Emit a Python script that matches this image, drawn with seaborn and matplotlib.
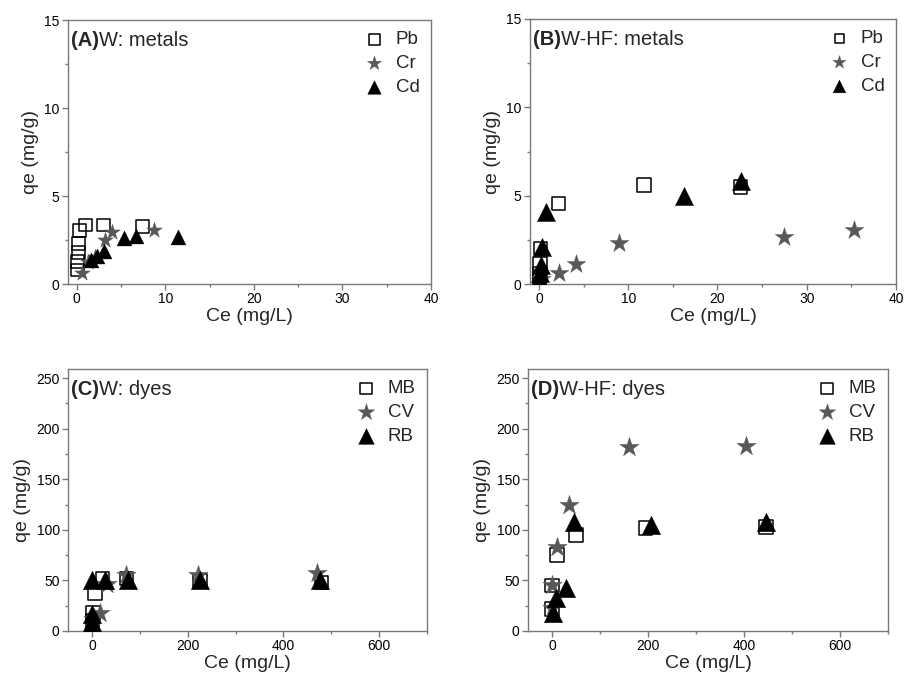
import matplotlib
matplotlib.use("Agg")
import matplotlib.pyplot as plt
from matplotlib.ticker import MultipleLocator
import seaborn as sns
import pandas as pd

sns.set_style("ticks")
plt.rcParams["font.family"] = ["Liberation Sans", "DejaVu Sans"]

# ---------------- data ----------------
# Panel A: W, metals
pbA_x = [0.05, 0.1, 0.15, 0.2, 0.3, 1.0, 3.0, 7.4]
pbA_y = [0.8, 1.3, 1.8, 2.3, 3.05, 3.35, 3.35, 3.25]
crA_x = [0.6, 1.3, 2.0, 3.2, 4.0, 8.7]
crA_y = [0.65, 1.25, 1.55, 2.5, 2.95, 3.05]
cdA_x = [1.6, 2.3, 3.1, 5.3, 6.7, 11.4]
cdA_y = [1.35, 1.6, 1.85, 2.6, 2.7, 2.65]

# Panel B: W-HF, metals
pbB_x = [0.05, 0.1, 0.15, 0.2, 2.2, 11.8, 22.6]
pbB_y = [0.3, 0.6, 1.15, 2.0, 4.55, 5.6, 5.5]
crB_x = [0.2, 2.3, 4.1, 9.0, 27.4, 35.3]
crB_y = [0.3, 0.6, 1.15, 2.3, 2.65, 3.05]
cdB_x = [0.05, 0.1, 0.2, 0.3, 0.8, 16.3, 22.6]
cdB_y = [0.3, 0.6, 1.1, 2.1, 4.05, 5.0, 5.85]

# Panel C: W, dyes
mbC_x = [1, 2, 6, 22, 72, 226, 480]
mbC_y = [10, 18, 37, 52, 52, 50, 48]
cvC_x = [2, 17, 31, 71, 222, 470]
cvC_y = [12, 18, 46, 55, 55, 57]
rbC_x = [1, 1, 1, 1, 27, 75, 226, 477]
rbC_y = [5, 9, 17, 50, 50, 50, 50, 50]

# Panel D: W-HF, dyes
mbD_x = [0, 0, 10, 50, 195, 446]
mbD_y = [22, 45, 75, 95, 102, 103]
cvD_x = [0, 0, 10, 36, 160, 404]
cvD_y = [23, 45, 83, 125, 182, 183]
rbD_x = [2, 9, 30, 45, 206, 446]
rbD_y = [18, 33, 43, 108, 105, 108]

metal_labels = ["Pb", "Cr", "Cd"]
dye_labels = ["MB", "CV", "RB"]
panel_tags = ["(A)", "(B)", "(C)", "(D)"]
panel_titles = ["W: metals", "W-HF: metals", "W: dyes", "W-HF: dyes"]

# ---------------- figure ----------------
W, H = 912, 674
fig = plt.figure(figsize=(W / 100, H / 100), dpi=100)

def add_axes(left, right, top, bottom):
    return fig.add_axes([left / W, (H - bottom) / H, (right - left) / W, (bottom - top) / H])

axA = add_axes(68, 431, 20, 284)
axB = add_axes(530, 896, 19, 284)
axC = add_axes(68, 427, 369, 631)
axD = add_axes(528, 888, 369, 631)

STAR = "#585858"
SPINE = "#7a7a7a"

def draw(ax, sets, labels, sizes):
    (x1, y1), (x2, y2), (x3, y3) = sets
    s1, s2, s3 = sizes
    sns.scatterplot(x=x1, y=y1, ax=ax, marker="s", s=s1, facecolor="none",
                    edgecolor="black", linewidth=1.1, label=labels[0], zorder=3)
    sns.scatterplot(x=x2, y=y2, ax=ax, marker="*", s=s2, color=STAR,
                    edgecolor=STAR, linewidth=0.3, label=labels[1], zorder=3)
    sns.scatterplot(x=x3, y=y3, ax=ax, marker="^", s=s3, color="black",
                    edgecolor="black", linewidth=0.3, label=labels[2], zorder=3)

draw(axA, [(pbA_x, pbA_y), (crA_x, crA_y), (cdA_x, cdA_y)], metal_labels, (85, 140, 115))
draw(axB, [(pbB_x, pbB_y), (crB_x, crB_y), (cdB_x, cdB_y)], metal_labels, (95, 200, 170))
draw(axC, [(mbC_x, mbC_y), (cvC_x, cvC_y), (rbC_x, rbC_y)], dye_labels, (95, 215, 175))
draw(axD, [(mbD_x, mbD_y), (cvD_x, cvD_y), (rbD_x, rbD_y)], dye_labels, (95, 215, 175))

legend_scale = [0.9, 0.7, 0.85, 0.85]

for i, ax in enumerate([axA, axB, axC, axD]):
    if i < 2:
        ax.set_xlim(-1, 40)
        ax.set_ylim(0, 15)
        ax.xaxis.set_major_locator(MultipleLocator(10))
        ax.xaxis.set_minor_locator(MultipleLocator(5))
        ax.yaxis.set_major_locator(MultipleLocator(5))
        ax.yaxis.set_minor_locator(MultipleLocator(2.5))
    else:
        ax.set_xlim(-50, 700)
        ax.set_ylim(0, 259)
        ax.xaxis.set_major_locator(MultipleLocator(200))
        ax.xaxis.set_minor_locator(MultipleLocator(100))
        ax.yaxis.set_major_locator(MultipleLocator(50))
        ax.yaxis.set_minor_locator(MultipleLocator(25))
    for sp in ax.spines.values():
        sp.set_visible(True)
        sp.set_color(SPINE)
        sp.set_linewidth(1.0)
    ax.tick_params(axis="both", which="major", direction="out", length=4, width=1,
                   color=SPINE, labelsize=10, pad=2, labelcolor="black")
    ax.tick_params(axis="both", which="minor", direction="out", length=2.5, width=1,
                   color=SPINE)
    ax.tick_params(top=False, right=False, which="both")
    ax.set_xlabel("Ce (mg/L)", fontsize=14, labelpad=1.5)
    ax.set_ylabel("qe (mg/g)", fontsize=14, labelpad=4)

    tag = ax.text(0.008, 0.922, panel_tags[i], transform=ax.transAxes, fontsize=14.5,
                  fontweight="bold", va="center", ha="left")
    ax.annotate(panel_titles[i], xy=(1, 0.5), xycoords=tag, va="center", ha="left",
                fontsize=14.5)

    ax.legend(loc="upper right", frameon=False, fontsize=13.5, handletextpad=0.5,
              labelspacing=0.36, borderaxespad=0.2, handlelength=1.3,
              markerscale=legend_scale[i])

fig.savefig("out.png", dpi=100)
